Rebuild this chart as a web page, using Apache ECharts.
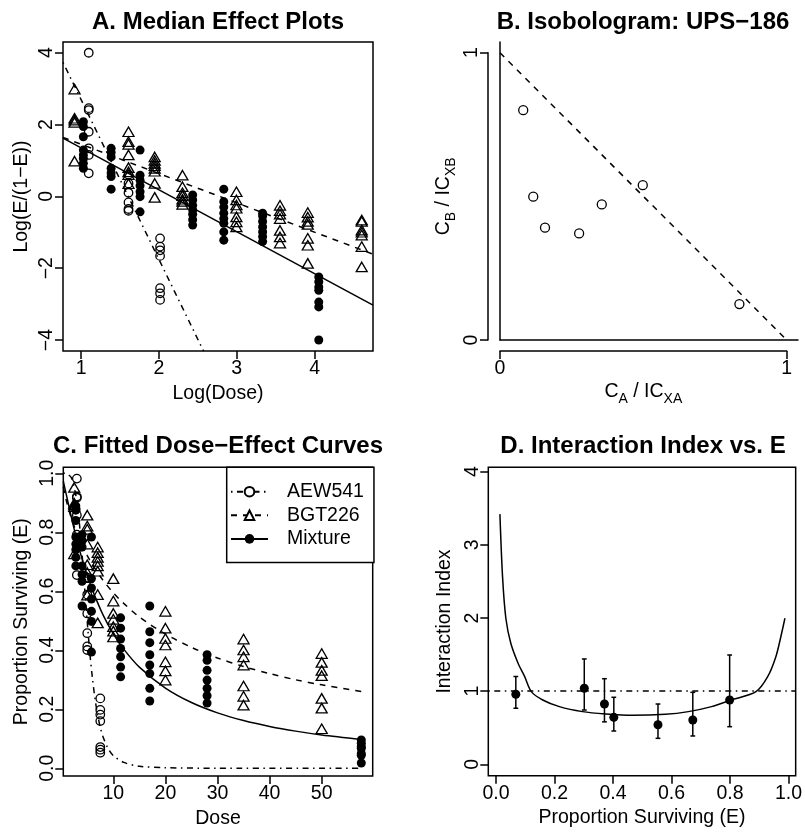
<!DOCTYPE html>
<html><head><meta charset="utf-8">
<script src="https://cdn.jsdelivr.net/npm/echarts@6/dist/echarts.min.js"></script>
<style>html,body{margin:0;padding:0;background:#fff}#c{width:805px;height:832px}</style>
</head><body><div id="c"></div>
<script>
// ---------------- DATA ----------------
// Raw observations: dose and proportion surviving (E)
const aewDoses = [3, 5, 7.5];
const aewSurv = [
  [0.982, 0.921, 0.917, 0.858, 0.792, 0.760, 0.655],
  [0.646, 0.589, 0.525, 0.458, 0.413, 0.401],
  [0.237, 0.198, 0.182, 0.160, 0.072, 0.063, 0.053]
];
const bgtDoses = [2.5, 5, 7, 10, 20, 35, 50, 100];
const bgtSurv = [
  [0.952, 0.898, 0.893, 0.887, 0.727],
  [0.858, 0.821, 0.810, 0.760, 0.690, 0.664, 0.646, 0.587],
  [0.750, 0.731, 0.715, 0.701, 0.686, 0.668, 0.589, 0.493],
  [0.643, 0.567, 0.525, 0.505, 0.480, 0.465, 0.445],
  [0.532, 0.475, 0.440, 0.418, 0.361, 0.330, 0.299],
  [0.438, 0.401, 0.378, 0.350, 0.279, 0.244, 0.214],
  [0.389, 0.359, 0.332, 0.314, 0.237, 0.204, 0.134],
  [0.341, 0.332, 0.281, 0.269, 0.254, 0.198, 0.123]
];
const mixDoses = [2.8, 4, 5.8, 11.4, 17, 28, 57.6];
const mixSurv = [
  [0.889, 0.875, 0.840, 0.784, 0.760, 0.741, 0.715, 0.686],
  [0.792, 0.772, 0.750, 0.686, 0.657, 0.634, 0.550],
  [0.784, 0.643, 0.611, 0.574, 0.532, 0.498, 0.394],
  [0.510, 0.475, 0.438, 0.406, 0.378, 0.343, 0.310],
  [0.550, 0.463, 0.426, 0.385, 0.350, 0.321, 0.271, 0.228],
  [0.385, 0.366, 0.332, 0.299, 0.271, 0.246, 0.221],
  [0.096, 0.085, 0.074, 0.068, 0.050, 0.044, 0.018]
];

// Panel A fitted median-effect lines (log dose, logit) endpoints
const aLineAEW = [[0.768, 3.73], [2.574, -4.31]];
const aLineBGT = [[0.768, 1.64], [4.75, -1.61]];
const aLineMix = [[0.768, 1.62], [4.75, -3.03]];

// Panel B isobologram points
const isoX = [0.081, 0.116, 0.157, 0.276, 0.355, 0.498, 0.835];
const isoY = [0.800, 0.499, 0.391, 0.371, 0.472, 0.539, 0.125];
const isoAdditive = [[0, 1], [1, 0]];

// Panel C fitted dose-effect curves (dose, E)
const cCurveAEW = [[0.4,1.0],[1,0.999],[2,0.983],[3,0.905],[3.5,0.828],[4,0.726],[4.5,0.611],[5,0.496],[5.5,0.39],[6,0.304],[6.5,0.234],[7,0.18],[7.5,0.139],[8,0.108],[9,0.067],[10,0.043],[12,0.02],[15,0.007],[20,0.002],[30,0.0003],[57.6,0]];
const cCurveBGT = [[0.4,0.953],[1,0.906],[2,0.845],[3,0.797],[4,0.756],[5,0.721],[6,0.69],[8,0.638],[10,0.595],[12,0.559],[15,0.513],[20,0.455],[25,0.41],[30,0.374],[35,0.345],[40,0.321],[45,0.30],[50,0.283],[57.6,0.26]];
const cCurveMix = [[0.4,0.973],[1,0.926],[2,0.847],[3,0.774],[4,0.71],[5,0.654],[6,0.604],[8,0.521],[10,0.456],[12,0.404],[15,0.343],[20,0.272],[25,0.223],[30,0.188],[35,0.162],[40,0.142],[45,0.126],[50,0.113],[57.6,0.098]];

// Panel D interaction index
const dX  = [0.068, 0.302, 0.371, 0.403, 0.554, 0.673, 0.799];
const dY  = [0.957, 1.040, 0.824, 0.642, 0.541, 0.606, 0.879];
const dLo = [0.766, 0.742, 0.580, 0.455, 0.355, 0.387, 0.514];
const dHi = [1.200, 1.440, 1.170, 0.916, 0.824, 0.984, 1.494];
const dCurve = [[0.0136,3.42],[0.0226,2.565],[0.0339,1.996],[0.0508,1.654],[0.0757,1.381],[0.0983,1.198],[0.121,0.993],[0.160,0.879],[0.217,0.788],[0.296,0.72],[0.375,0.688],[0.465,0.669],[0.579,0.683],[0.658,0.72],[0.737,0.788],[0.804,0.879],[0.889,0.993],[0.929,1.198],[0.957,1.471],[0.974,1.744],[0.988,1.996]];
const dRef = 1;

// Tick values
const aXTicks = [1, 2, 3, 4];
const aYTicks = [-4, -2, 0, 2, 4];
const bTicks = [0, 1];
const cXTicks = [10, 20, 30, 40, 50];
const cYTicks = [0, 0.2, 0.4, 0.6, 0.8, 1.0];
const dXTicks = [0, 0.2, 0.4, 0.6, 0.8, 1.0];
const dYTicks = [0, 1, 2, 3, 4];

// ---------------- BUILD ----------------
function rawPts(doses, surv) { const o = []; doses.forEach((d, i) => surv[i].forEach(e => o.push([d, e]))); return o; }
function logitPts(doses, surv) { const o = []; doses.forEach((d, i) => surv[i].forEach(e => o.push([Math.log(d), Math.log(e / (1 - e))]))); return o; }

const FONT = '"Liberation Sans", Arial, Helvetica, sans-serif';
const FS = 19.5;
const LW = 1.5;
const DASHED = [6, 6];
const DOTDASH = [1.5, 4.5, 6, 4.5];
const minus = v => String(v).replace('-', '\u2212');

function axis(gi, min, max, ticks, fmt, isY, name, nameGap, extra) {
  const a = {
    type: 'value', gridIndex: gi, min: min, max: max,
    axisLine: { show: false, onZero: false },
    axisTick: { show: true, inside: false, length: 8, lineStyle: { color: '#000', width: LW }, customValues: ticks },
    axisLabel: { show: true, customValues: ticks, formatter: fmt, color: '#000', fontSize: FS, fontFamily: FONT, margin: isY ? 6 : 8, rotate: isY ? 90 : 0 },
    splitLine: { show: false },
    name: name, nameLocation: 'middle', nameGap: nameGap,
    nameTextStyle: { color: '#000', fontSize: FS, fontFamily: FONT }
  };
  return Object.assign(a, extra || {});
}
function bare(gi, min, max, showLine) {
  return { type: 'value', gridIndex: gi, min: min, max: max,
    axisLine: { show: !!showLine, onZero: false, lineStyle: { color: '#000', width: LW } },
    axisTick: { show: false }, axisLabel: { show: false }, splitLine: { show: false } };
}

const hollowCircle = { color: 'rgba(0,0,0,0)', borderColor: '#000', borderWidth: 1.3, opacity: 1 };
const hollowTri = { color: 'rgba(0,0,0,0)', borderColor: '#000', borderWidth: 1.3, opacity: 1 };
const filled = { color: '#000', borderWidth: 0, opacity: 1 };

const richSub = {
  m: { fontSize: FS, fontFamily: FONT, color: '#000', lineHeight: 28 },
  s: { fontSize: 14, fontFamily: FONT, color: '#000', lineHeight: 14, verticalAlign: 'bottom' }
};

const gridBox = { show: true, borderColor: '#000', borderWidth: LW, backgroundColor: 'transparent', containLabel: false };

const option = {
  animation: false,
  backgroundColor: '#fff',
  title: [
    { text: 'A. Median Effect Plots', left: 218, top: 10, textAlign: 'center', padding: 0, textStyle: { fontSize: 24, fontWeight: 'bold', fontFamily: FONT, color: '#000' } },
    { text: 'B. Isobologram: UPS\u2212186', left: 643, top: 10, textAlign: 'center', padding: 0, textStyle: { fontSize: 24, fontWeight: 'bold', fontFamily: FONT, color: '#000' } },
    { text: 'C. Fitted Dose\u2212Effect Curves', left: 218, top: 434.5, textAlign: 'center', padding: 0, textStyle: { fontSize: 24, fontWeight: 'bold', fontFamily: FONT, color: '#000' } },
    { text: 'D. Interaction Index vs. E', left: 643, top: 434.5, textAlign: 'center', padding: 0, textStyle: { fontSize: 24, fontWeight: 'bold', fontFamily: FONT, color: '#000' } }
  ],
  grid: [
    Object.assign({ left: 63, top: 42, width: 310, height: 309 }, gridBox),            // 0 A
    { left: 500, top: 42, width: 298, height: 298, show: false },                        // 1 B frame
    { left: 500, top: 52.7, width: 286.7, height: 287.3, show: false },                  // 2 B scale
    Object.assign({ left: 63.3, top: 467.3, width: 309.4, height: 308.7 }, gridBox),     // 3 C
    Object.assign({ left: 488.3, top: 467.3, width: 310, height: 308.4 }, gridBox)       // 4 D
  ],
  xAxis: [
    axis(0, 0.768, 4.75, aXTicks, v => minus(v), false, 'Log(Dose)', 33),
    bare(1, 0, 1.04, true),
    axis(2, 0, 1, bTicks, v => String(v), false, '{m|C}{s|A}{m| / IC}{s|XA}', 27,
      { offset: 11, axisLine: { show: true, onZero: false, lineStyle: { color: '#000', width: LW } },
        nameTextStyle: { rich: richSub } }),
    axis(3, 0.4, 59.79, cXTicks, v => String(v), false, 'Dose', 32.5),
    axis(4, -0.0261, 1.0247, dXTicks, v => v.toFixed(1), false, 'Proportion Surviving (E)', 32)
  ],
  yAxis: [
    axis(0, -4.306, 4.298, aYTicks, v => minus(v), true, 'Log(E/(1\u2212E))', 31),
    bare(1, 0, 1.04, true),
    axis(2, 0, 1, bTicks, v => String(v), true, '{m|C}{s|B}{m| / IC}{s|XB}', 30,
      { offset: 12, axisLine: { show: true, onZero: false, lineStyle: { color: '#000', width: LW } },
        nameTextStyle: { rich: richSub } }),
    axis(3, -0.0261, 1.0203, cYTicks, v => v.toFixed(1), true, 'Proportion Surviving (E)', 31.5),
    axis(4, -0.156, 4.06, dYTicks, v => String(v), true, 'Interaction Index', 33.5)
  ],
  legend: {
    data: ['AEW541', 'BGT226', 'Mixture'],
    orient: 'vertical', left: 226.7, top: 467.3,
    padding: [14.4, 10, 13.7, 3.3],
    itemWidth: 37, itemHeight: 12, itemGap: 3.6,
    borderColor: '#000', borderWidth: LW, backgroundColor: '#fff',
    selectedMode: false,
    textStyle: { color: '#000', fontSize: FS, fontFamily: FONT, lineHeight: 20, padding: [0, 0, 0, 14] }
  },
  series: [
    // ---- A ----
    { type: 'scatter', xAxisIndex: 0, yAxisIndex: 0, symbol: 'circle', symbolSize: 8.5, itemStyle: hollowCircle, data: logitPts(aewDoses, aewSurv), z: 3 },
    { type: 'scatter', xAxisIndex: 0, yAxisIndex: 0, symbol: 'triangle', symbolSize: [11, 9.5], itemStyle: hollowTri, data: logitPts(bgtDoses, bgtSurv), z: 3 },
    { type: 'scatter', xAxisIndex: 0, yAxisIndex: 0, symbol: 'circle', symbolSize: 9, itemStyle: filled, data: logitPts(mixDoses, mixSurv), z: 3 },
    { type: 'line', xAxisIndex: 0, yAxisIndex: 0, data: aLineAEW, showSymbol: false, symbol: 'none', clip: true, lineStyle: { color: '#000', width: LW, type: DOTDASH }, z: 2 },
    { type: 'line', xAxisIndex: 0, yAxisIndex: 0, data: aLineBGT, showSymbol: false, symbol: 'none', clip: true, lineStyle: { color: '#000', width: LW, type: DASHED }, z: 2 },
    { type: 'line', xAxisIndex: 0, yAxisIndex: 0, data: aLineMix, showSymbol: false, symbol: 'none', clip: true, lineStyle: { color: '#000', width: LW, type: 'solid' }, z: 2 },
    // ---- B ----
    { type: 'line', xAxisIndex: 2, yAxisIndex: 2, data: isoAdditive, showSymbol: false, symbol: 'none', clip: false, lineStyle: { color: '#000', width: LW, type: DASHED } },
    { type: 'scatter', xAxisIndex: 2, yAxisIndex: 2, symbol: 'circle', symbolSize: 9, itemStyle: hollowCircle, clip: false, data: isoX.map((x, i) => [x, isoY[i]]) },
    // ---- C ----
    { type: 'scatter', xAxisIndex: 3, yAxisIndex: 3, symbol: 'circle', symbolSize: 8.5, itemStyle: hollowCircle, clip: true, data: rawPts(aewDoses, aewSurv), z: 3 },
    { type: 'scatter', xAxisIndex: 3, yAxisIndex: 3, symbol: 'triangle', symbolSize: [11, 9.5], itemStyle: hollowTri, clip: true, data: rawPts(bgtDoses, bgtSurv), z: 3 },
    { type: 'scatter', xAxisIndex: 3, yAxisIndex: 3, symbol: 'circle', symbolSize: 9, itemStyle: filled, clip: true, data: rawPts(mixDoses, mixSurv), z: 3 },
    { name: 'AEW541', type: 'line', xAxisIndex: 3, yAxisIndex: 3, data: cCurveAEW, smooth: 0.3, showSymbol: false, symbol: 'circle', clip: true,
      itemStyle: { color: '#fff', borderColor: '#000', borderWidth: 1.3 }, lineStyle: { color: '#000', width: LW, type: DOTDASH }, z: 2 },
    { name: 'BGT226', type: 'line', xAxisIndex: 3, yAxisIndex: 3, data: cCurveBGT, smooth: 0.3, showSymbol: false, symbol: 'triangle', clip: true,
      itemStyle: { color: '#fff', borderColor: '#000', borderWidth: 1.3 }, lineStyle: { color: '#000', width: LW, type: DASHED }, z: 2 },
    { name: 'Mixture', type: 'line', xAxisIndex: 3, yAxisIndex: 3, data: cCurveMix, smooth: 0.3, showSymbol: false, symbol: 'circle', clip: true,
      itemStyle: { color: '#000', borderColor: '#000', borderWidth: 0 }, lineStyle: { color: '#000', width: LW, type: 'solid' }, z: 2 },
    // ---- D ----
    { type: 'line', xAxisIndex: 4, yAxisIndex: 4, data: dCurve, smooth: 0.3, showSymbol: false, symbol: 'none', clip: true,
      lineStyle: { color: '#000', width: LW },
      markLine: { silent: true, symbol: ['none', 'none'], label: { show: false }, lineStyle: { color: '#000', width: LW, type: DOTDASH }, data: [{ yAxis: dRef }] } },
    { type: 'custom', xAxisIndex: 4, yAxisIndex: 4, data: dX.map((x, i) => [x, dLo[i], dHi[i]]),
      encode: { x: 0, y: [1, 2] },
      renderItem: function (params, api) {
        const x = api.value(0);
        const lo = api.coord([x, api.value(1)]);
        const hi = api.coord([x, api.value(2)]);
        const w = 2.4;
        const st = { stroke: '#000', lineWidth: LW };
        return { type: 'group', children: [
          { type: 'line', shape: { x1: lo[0], y1: lo[1], x2: hi[0], y2: hi[1] }, style: st },
          { type: 'line', shape: { x1: lo[0] - w, y1: lo[1], x2: lo[0] + w, y2: lo[1] }, style: st },
          { type: 'line', shape: { x1: hi[0] - w, y1: hi[1], x2: hi[0] + w, y2: hi[1] }, style: st }
        ] };
      } },
    { type: 'scatter', xAxisIndex: 4, yAxisIndex: 4, symbol: 'circle', symbolSize: 9, itemStyle: filled, data: dX.map((x, i) => [x, dY[i]]), z: 4 }
  ]
};

const chart = echarts.init(document.getElementById('c'), null, { renderer: 'canvas' });
chart.setOption(option);
</script></body></html>
